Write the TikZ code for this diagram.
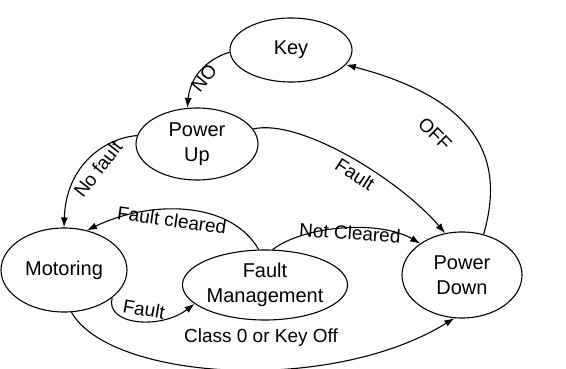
\documentclass[tikz,border=0pt]{standalone}
\usepackage{fontspec}
\setmainfont{Liberation Sans}
\usetikzlibrary{shapes.geometric,arrows.meta}
\begin{document}
\begin{tikzpicture}[x=1pt,y=-1pt,
 state/.style={ellipse,draw,line width=1.1pt,inner sep=0pt,align=center,font=\fontsize{20}{25}\selectfont},
 lbl/.style={inner sep=0pt,font=\fontsize{19}{23}\selectfont},
 edge/.style={line width=1.1pt,-{Latex[length=10pt,width=7pt]}}]
\useasboundingbox (0,0) rectangle (566,369);
\node[state,minimum width=122pt,minimum height=64pt] (key) at (291,50) {Key};
\node[state,minimum width=122pt,minimum height=72pt] (powerup) at (197,144) {Power\\Up};
\node[state,minimum width=126pt,minimum height=84pt] (motoring) at (64,270) {Motoring};
\node[state,minimum width=164pt,minimum height=70pt] (fm) at (265,285) {Fault\\Management};
\node[state,minimum width=120pt,minimum height=86pt] (pd) at (462,275) {Power\\Down};

\draw[edge] (key.182) .. controls (205,60) and (190,78) .. (powerup.105);
\node[lbl,rotate=50] (lno) at (204,78) {NO};

\draw[edge] (powerup.172) .. controls (105,138) and (66,165) .. (motoring.90);
\node[lbl,rotate=52] (lnofault) at (98,169) {No fault};

\draw[edge] (powerup.15) .. controls (300,118) and (400,180) .. (pd.112);
\node[lbl,rotate=-33] (lfault1) at (355,174) {Fault};

\draw[edge] (pd.62) .. controls (505,160) and (480,100) .. (key.-15);
\node[lbl,rotate=-45] (loff) at (435,134) {OFF};

\draw[edge] (fm.100) .. controls (230,200) and (150,200) .. (motoring.60);
\node[lbl,rotate=-8] (lcleared) at (172,220) {Fault cleared};

\draw[edge] (motoring.-30) .. controls (105,325) and (160,330) .. (fm.195);
\node[lbl,rotate=-10] (lfault2) at (144,309) {Fault};

\draw[edge] (fm.78) .. controls (305,225) and (380,220) .. (pd.143);
\node[lbl,rotate=-4] (lnotcl) at (350,233) {Not Cleared};

\draw[edge] (motoring.-80) .. controls (110,380) and (330,395) .. (pd.-100);
\node[lbl] (lclass) at (261,338) {Class 0 or Key Off};
\end{tikzpicture}
\end{document}
